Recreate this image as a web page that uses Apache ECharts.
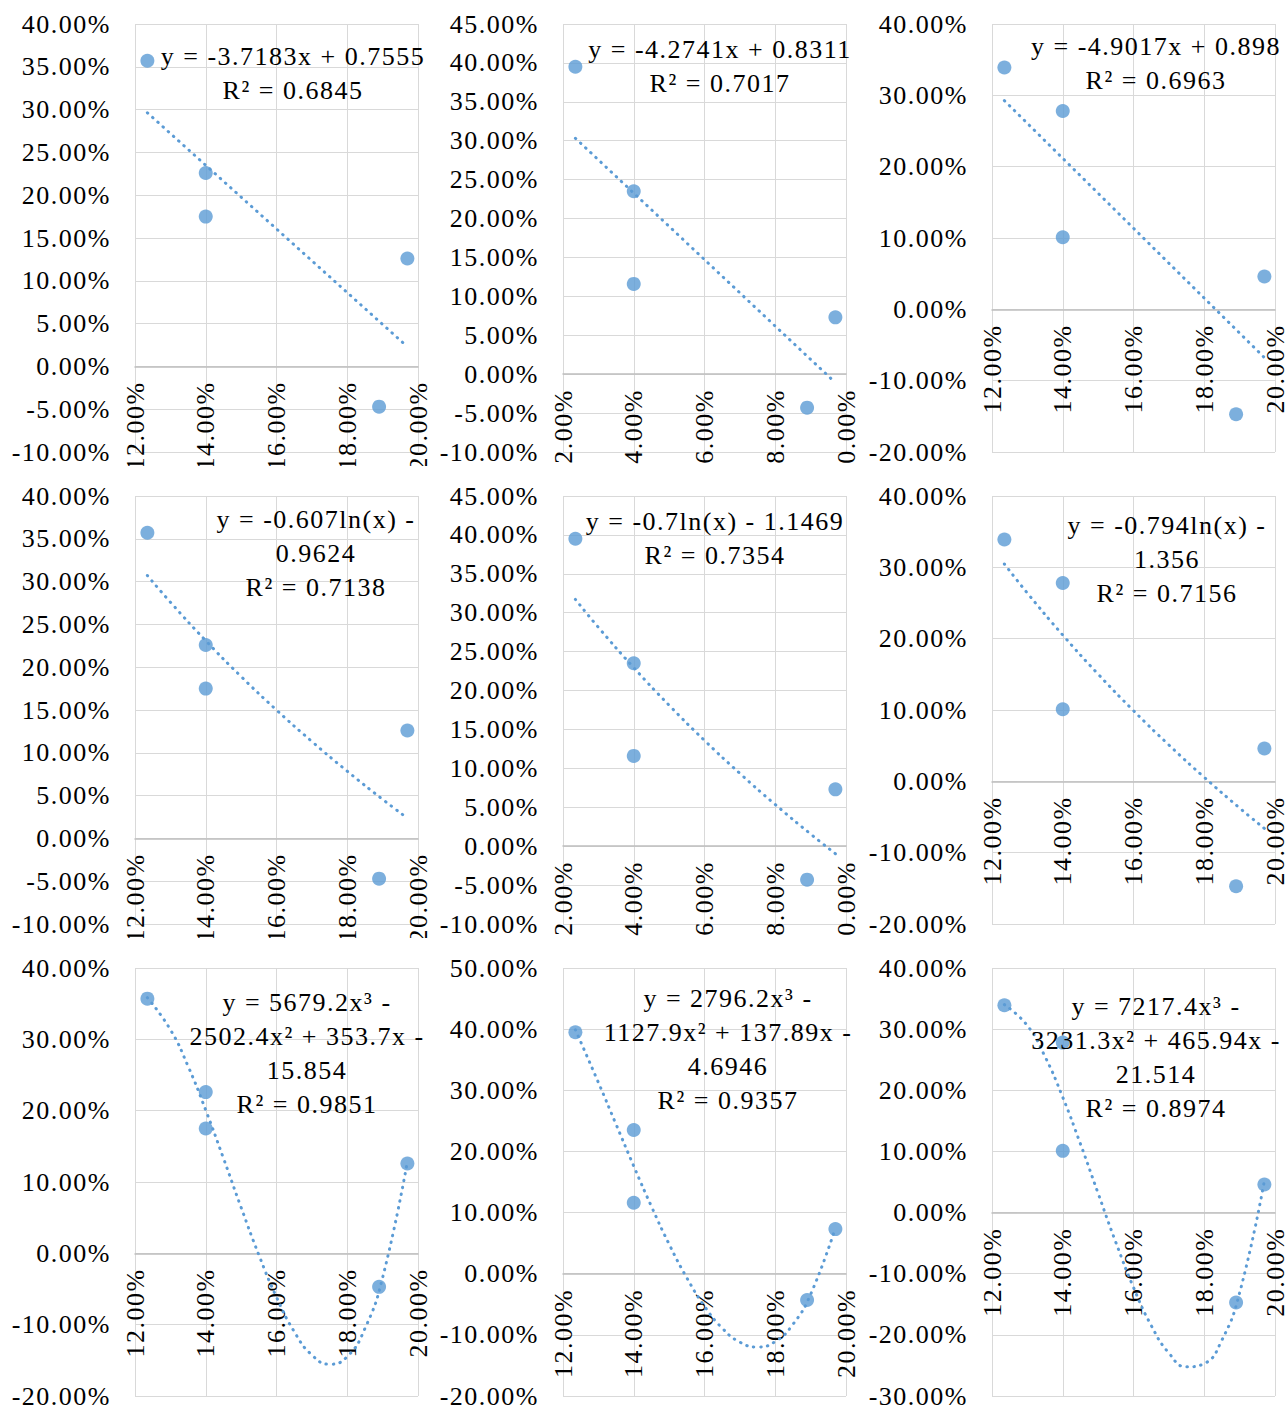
<!DOCTYPE html>
<html><head><meta charset="utf-8">
<script src="https://cdn.jsdelivr.net/npm/echarts@6/dist/echarts.min.js"></script>
<style>
html,body{margin:0;padding:0;background:#fff;}
#wrap{position:relative;width:1288px;height:1407px;overflow:hidden;background:#fff;}
.cell{position:absolute;overflow:hidden;}
.cell svg text{letter-spacing:1.5px;}
</style></head><body><div id="wrap"></div>
<script>
// ---- data ----
const pointX = [0.1235, 0.14, 0.14, 0.189, 0.197];
const seriesA = [0.357, 0.226, 0.175, -0.047, 0.126];
const seriesB = [0.395, 0.235, 0.116, -0.043, 0.073];
const seriesC = [0.339, 0.278, 0.101, -0.147, 0.046];

const linTrendX = [0.1235, 0.197];
const linTrendA = [0.2963, 0.0230];
const linTrendB = [0.3032, -0.0109];
const linTrendC = [0.2926, -0.0676];

const logTrendX = [0.1235, 0.13, 0.14, 0.15, 0.16, 0.17, 0.18, 0.19, 0.197];
const logTrendA = [0.3071, 0.2760, 0.2310, 0.1891, 0.1500, 0.1132, 0.0785, 0.0456, 0.0237];
const logTrendB = [0.3172, 0.2812, 0.2294, 0.1811, 0.1359, 0.0935, 0.0535, 0.0156, -0.0097];
const logTrendC = [0.3047, 0.2639, 0.2051, 0.1503, 0.0991, 0.0510, 0.0056, -0.0374, -0.0661];

const cubTrendX = [0.1235, 0.13, 0.135, 0.14, 0.145, 0.15, 0.155, 0.16, 0.165, 0.17, 0.175, 0.18, 0.185, 0.19, 0.197];
const cubTrendA = [0.3584, 0.3136, 0.2623, 0.2007, 0.1333, 0.0643, -0.0021, -0.0614, -0.1096, -0.1425, -0.1555, -0.1447, -0.1054, -0.0340, 0.1288];
const cubTrendB = [0.3989, 0.3128, 0.2443, 0.1760, 0.1100, 0.0483, -0.0067, -0.0532, -0.0889, -0.1119, -0.1198, -0.1110, -0.0828, -0.0336, 0.0750];
const cubTrendC = [0.3401, 0.3058, 0.2550, 0.1886, 0.1123, 0.0314, -0.0486, -0.1224, -0.1845, -0.2297, -0.2523, -0.2470, -0.2084, -0.1312, 0.0523];

const xAxisMin = 0.12, xAxisMax = 0.20, xAxisStep = 0.02;
const yAxisMin = [-0.1, -0.1, -0.2, -0.1, -0.1, -0.2, -0.2, -0.2, -0.3];
const yAxisMax = [0.4, 0.45, 0.4, 0.4, 0.45, 0.4, 0.4, 0.5, 0.4];
const yAxisStep = [0.05, 0.05, 0.1, 0.05, 0.05, 0.1, 0.1, 0.1, 0.1];

const equationTexts = [
  'y = -3.7183x + 0.7555\nR² = 0.6845',
  'y = -4.2741x + 0.8311\nR² = 0.7017',
  'y = -4.9017x + 0.898\nR² = 0.6963',
  'y = -0.607ln(x) -\n0.9624\nR² = 0.7138',
  'y = -0.7ln(x) - 1.1469\nR² = 0.7354',
  'y = -0.794ln(x) -\n1.356\nR² = 0.7156',
  'y = 5679.2x³ -\n2502.4x² + 353.7x -\n15.854\nR² = 0.9851',
  'y = 2796.2x³ -\n1127.9x² + 137.89x -\n4.6946\nR² = 0.9357',
  'y = 7217.4x³ -\n3231.3x² + 465.94x -\n21.514\nR² = 0.8974'
];

// ---- layout ----
const colLeft = [0, 429, 858], colWidth = [429, 429, 430];
const rowTop = [0, 472, 944], rowHeight = [466, 466, 463];
const gridLeft = [135, 134, 134], gridWidth = [283, 283, 283];
const GRID_TOP = 24, GRID_H = 428;
const eqX = [293, 291, 298, 316, 286, 309, 307, 299, 298];
const eqY = [56, 49, 46, 47, 49, 53, 58, 54, 62];

const FONT = "'Liberation Serif','Times New Roman',serif";
const FS = 26;
const BLUE = '#5B9BD5';
const pct = v => (v * 100).toFixed(2) + '%';
const pairs = (xs, ys) => xs.map((x, i) => [x, ys[i]]);

const pointSets = [seriesA, seriesB, seriesC];
const trends = [
  [[linTrendX, linTrendA], [linTrendX, linTrendB], [linTrendX, linTrendC]],
  [[logTrendX, logTrendA], [logTrendX, logTrendB], [logTrendX, logTrendC]],
  [[cubTrendX, cubTrendA], [cubTrendX, cubTrendB], [cubTrendX, cubTrendC]]
];

const wrap = document.getElementById('wrap');
for (let r = 0; r < 3; r++) {
  for (let c = 0; c < 3; c++) {
    const k = r * 3 + c;
    const div = document.createElement('div');
    div.className = 'cell';
    div.style.left = colLeft[c] + 'px';
    div.style.top = rowTop[r] + 'px';
    div.style.width = colWidth[c] + 'px';
    div.style.height = rowHeight[r] + 'px';
    wrap.appendChild(div);
    const chart = echarts.init(div, null, {renderer: 'svg'});
    const tr = trends[r][c];
    // x axis sits on the y = 0 line (horizontal axis crosses at zero)
    const zeroOffset = -(0 - yAxisMin[k]) / (yAxisMax[k] - yAxisMin[k]) * GRID_H;
    chart.setOption({
      animation: false,
      grid: {left: gridLeft[c], top: GRID_TOP, width: gridWidth[c], height: GRID_H,
             containLabel: false, outerBoundsMode: 'none'},
      xAxis: {
        type: 'value', min: xAxisMin, max: xAxisMax, interval: xAxisStep,
        position: 'bottom', offset: zeroOffset,
        axisLine: {show: true, onZero: false, lineStyle: {color: '#bfbfbf', width: 1.5}},
        axisTick: {show: false},
        axisLabel: {rotate: 90, margin: 15, formatter: pct, fontFamily: FONT, fontSize: FS, color: '#000',
                    showMinLabel: true, showMaxLabel: true, hideOverlap: false},
        splitLine: {show: true, lineStyle: {color: '#d9d9d9', width: 1}}
      },
      yAxis: {
        type: 'value', min: yAxisMin[k], max: yAxisMax[k], interval: yAxisStep[k],
        axisLine: {show: false}, axisTick: {show: false},
        axisLabel: {margin: 24, formatter: pct, fontFamily: FONT, fontSize: FS, color: '#000',
                    showMinLabel: true, showMaxLabel: true},
        splitLine: {show: true, lineStyle: {color: '#d9d9d9', width: 1}}
      },
      series: [
        {type: 'line', data: pairs(tr[0], tr[1]), showSymbol: false, smooth: r > 0, silent: true,
         lineStyle: {color: BLUE, width: 3, type: [0.5, 6.5], cap: 'round'}, z: 3},
        {type: 'scatter', data: pairs(pointX, pointSets[c]), symbol: 'circle', symbolSize: 14,
         itemStyle: {color: BLUE}, z: 4}
      ],
      graphic: [{
        type: 'text', x: eqX[k], y: eqY[k] - 17, z: 10,
        style: {text: equationTexts[k], fontFamily: FONT, fontSize: FS, lineHeight: 34, fill: '#000',
                align: 'center', textAlign: 'center', verticalAlign: 'top', textVerticalAlign: 'top'}
      }]
    });
  }
}
</script></body></html>
